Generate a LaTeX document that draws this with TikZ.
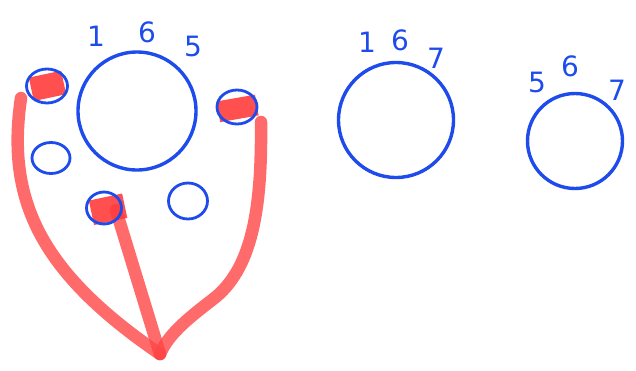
\documentclass[tikz,border=0pt]{standalone}
\usepackage{fontspec}
\setmainfont{DejaVu Sans}
\usetikzlibrary{shapes.geometric}
\definecolor{pen}{RGB}{30,75,235}
\definecolor{mark}{RGB}{255,70,70}
\tikzset{
  bigring/.style={circle,draw=pen,line width=3.4pt,inner sep=0pt},
  smallring/.style={ellipse,draw=pen,line width=2.8pt,inner sep=0pt},
  digit/.style={text=pen,font=\fontsize{28}{30}\selectfont,inner sep=0pt},
  wire/.style={draw=mark,opacity=0.8,line width=12.5pt,line cap=round,line join=round},
  blob/.style={fill=mark!85!red,opacity=0.9}
}
\begin{document}
\begin{tikzpicture}[x=1pt,y=-1pt]
\useasboundingbox (0,0) rectangle (636,370);
% big circles
\node[bigring,minimum size=118pt] (c1) at (137,111) {};
\node[bigring,minimum size=115pt] (c2) at (396,120) {};
\node[bigring,minimum size=95pt] (c3) at (575,141) {};
% labels
\node[digit] (l11) at (96,36) {1};
\node[digit] (l12) at (147,32) {6};
\node[digit] (l13) at (193,46) {5};
\node[digit] (l21) at (367,42) {1};
\node[digit] (l22) at (400,40) {6};
\node[digit] (l23) at (436,58) {7};
\node[digit] (l31) at (537,82) {5};
\node[digit] (l32) at (570,66) {6};
\node[digit] (l33) at (617,90) {7};
% red wires
\coordinate (j) at (160,354);
\coordinate (wa) at (21,98);
\coordinate (wb) at (116,210);
\coordinate (wc) at (261,122);
\draw[wire] (wa) .. controls (6,200) and (40,272) .. (j);
\draw[wire] (wb) -- (j);
\draw[wire] (wc) .. controls (262,210) and (252,270) .. (212,300) .. controls (186,320) and (168,335) .. (j);
% red blobs
\fill[blob,rotate around={12:(47,86)}] (31,74) rectangle (64,98);
\fill[blob,rotate around={10:(237,108)}] (218,98) rectangle (257,119);
\fill[blob,rotate around={12:(107,209)}] (91,197) rectangle (125,222);
% small circles
\node[smallring,minimum width=41pt,minimum height=34pt] (s1) at (47,86) {};
\node[smallring,minimum width=40pt,minimum height=34pt] (s2) at (237,107) {};
\node[smallring,minimum width=38pt,minimum height=31pt] (s3) at (51,158) {};
\node[smallring,minimum width=35pt,minimum height=32pt] (s4) at (104,208) {};
\node[smallring,minimum width=39pt,minimum height=36pt] (s5) at (188,201) {};
\end{tikzpicture}
\end{document}
